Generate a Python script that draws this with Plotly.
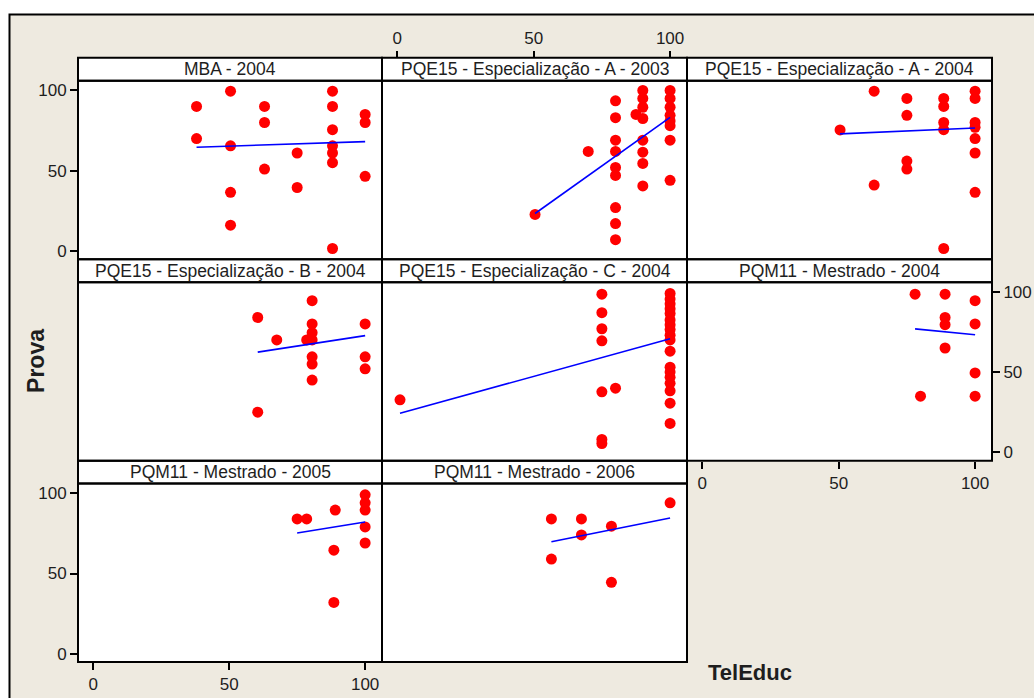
import numpy as np
import plotly.graph_objects as go

# ---- data -------------------------------------------------------------
panel_titles = [
    "MBA - 2004",
    "PQE15 - Especialização - A - 2003",
    "PQE15 - Especialização - A - 2004",
    "PQE15 - Especialização - B - 2004",
    "PQE15 - Especialização - C - 2004",
    "PQM11 - Mestrado - 2004",
    "PQM11 - Mestrado - 2005",
    "PQM11 - Mestrado - 2006",
]

mba04_x = [38, 38, 50.5, 50.5, 50.5, 50.5, 63, 63, 63, 75, 75,
           88, 88, 88, 88, 88, 88, 88, 100, 100, 100]
mba04_y = [90, 70, 99.5, 65.5, 36.5, 16, 90, 80, 51, 61, 39.5,
           99.5, 90, 75.5, 65.5, 61, 55, 1.5, 85, 80, 46.5]

espA03_x = [50.5, 70] + [80] * 9 + [87.5] + [90] * 8 + [100] * 8
espA03_y = [22.7, 62, 93.5, 83, 69, 62, 52, 47, 27, 17, 7, 85,
            100, 95, 89.5, 82.5, 69, 61.5, 54.5, 40.5,
            100, 95, 89.5, 84.5, 81, 78, 69, 44]

espA04_x = [50.5, 63, 63, 75, 75, 75, 75] + [88.5] * 5 + [100] * 7
espA04_y = [75.4, 99.5, 41, 95, 84.5, 56, 51, 95, 90, 80, 75.5, 1.5,
            99.5, 95, 80, 77, 70, 61, 36.5]

espB04_x = [60.5, 60.5, 67.5, 78.5] + [80.5] * 7 + [100] * 3
espB04_y = [84, 25, 70, 70, 94.5, 80, 74.5, 70, 59.5, 55, 45, 80, 59.5, 52]

espC04_x = [1] + [75] * 7 + [80] + [100] * 18
espC04_y = [32.7, 98.5, 87, 77, 69.5, 37.7, 8, 5.5, 40,
            99, 95.5, 92.5, 89.5, 86.5, 82.5, 79.5, 76.5, 73, 70,
            63, 53, 50, 46.7, 43, 38.3, 30.6, 18]

mest04_x = [78, 80, 89, 89, 89, 89, 100, 100, 100, 100]
mest04_y = [98.5, 35, 98.5, 84, 79.5, 65, 94.5, 80, 49.5, 35]

mest05_x = [75, 78.5, 89, 88.5, 88.5, 100, 100, 100, 100, 100]
mest05_y = [84, 84, 89.5, 64.5, 32, 99, 94, 89.5, 79, 69]

mest06_x = [56.5, 56.5, 67.5, 67.5, 78.5, 78.5, 100]
mest06_y = [84, 59, 84, 74, 79.5, 44.5, 94]

# least-squares fit per panel: Prova = intercept + slope * TelEduc
fit_intercept = [62.45, -37.8, 69.2, 46.7, 23.9, 89.7, 54.5, 50.5]
fit_slope = [0.0565, 1.21, 0.074, 0.26, 0.468, -0.164, 0.276, 0.341]

tick_vals = [0, 50, 100]
tick_text = ["0", "50", "100"]

panel_x = [mba04_x, espA03_x, espA04_x, espB04_x, espC04_x, mest04_x, mest05_x, mest06_x]
panel_y = [mba04_y, espA03_y, espA04_y, espB04_y, espC04_y, mest04_y, mest05_y, mest06_y]

# ---- layout geometry (pixels) ----------------------------------------
W, H = 1034, 698
col_edges = [78, 382, 687, 992]
strip_tops = [58, 260, 462]
strip_h = 23
plot_bottoms = [260, 462, 664]
positions = [(0, 0), (0, 1), (0, 2), (1, 0), (1, 1), (1, 2), (2, 0), (2, 1)]

X_RANGE = [-5.6, 106.2]
Y_RANGE = [-5.2, 106.0]

BEIGE = "#EEEAE0"
FONT = "Liberation Sans, Arial, sans-serif"
TXT = "#1e1e1e"


def fx(px):
    return px / W


def fy(py):
    return 1 - py / H


fig = go.Figure()
shapes = []
annotations = []

# framed beige background
shapes.append(dict(type="rect", xref="paper", yref="paper",
                   x0=fx(9.5), x1=fx(W + 5), y0=fy(H + 5), y1=fy(14.5),
                   fillcolor=BEIGE, line=dict(color="#000000", width=2),
                   layer="below"))

for i, (r, c) in enumerate(positions):
    n = i + 1
    xa = "x" if n == 1 else f"x{n}"
    ya = "y" if n == 1 else f"y{n}"
    x0, x1 = col_edges[c], col_edges[c + 1]
    st = strip_tops[r]
    pt = st + strip_h
    pb = plot_bottoms[r]

    xs = np.array(panel_x[i], dtype=float)
    ys = np.array(panel_y[i], dtype=float)
    fig.add_trace(go.Scatter(x=xs, y=ys, mode="markers", xaxis=xa, yaxis=ya,
                             marker=dict(color="#FF0000", size=11, line=dict(width=0)),
                             showlegend=False, hoverinfo="x+y"))
    lx = np.array([xs.min(), xs.max()])
    ly = fit_intercept[i] + fit_slope[i] * lx
    fig.add_trace(go.Scatter(x=lx, y=ly, mode="lines", xaxis=xa, yaxis=ya,
                             line=dict(color="#0000FF", width=1.6),
                             showlegend=False, hoverinfo="skip"))

    # white panel + strip backgrounds
    shapes.append(dict(type="rect", xref="paper", yref="paper",
                       x0=fx(x0), x1=fx(x1), y0=fy(pb), y1=fy(st),
                       fillcolor="#FFFFFF", line=dict(width=0), layer="below"))
    # borders
    shapes.append(dict(type="rect", xref="paper", yref="paper",
                       x0=fx(x0), x1=fx(x1), y0=fy(pb), y1=fy(pt),
                       line=dict(color="#000000", width=2), layer="above"))
    shapes.append(dict(type="rect", xref="paper", yref="paper",
                       x0=fx(x0), x1=fx(x1), y0=fy(pt), y1=fy(st),
                       line=dict(color="#000000", width=2), layer="above"))
    annotations.append(dict(text=panel_titles[i], xref="paper", yref="paper",
                            x=fx((x0 + x1) / 2), y=fy(st + strip_h / 2),
                            xanchor="center", yanchor="middle", showarrow=False,
                            font=dict(family=FONT, size=17.5, color=TXT)))

    base_x = dict(domain=[fx(x0), fx(x1)], range=X_RANGE, showgrid=False,
                  zeroline=False, showline=False, anchor=ya,
                  tickvals=tick_vals, ticktext=tick_text, ticks="",
                  showticklabels=False, fixedrange=True,
                  tickfont=dict(family=FONT, size=17, color=TXT),
                  ticklen=7, tickwidth=1.5, tickcolor="#000000")
    base_y = dict(domain=[fy(pb), fy(pt)], range=Y_RANGE, showgrid=False,
                  zeroline=False, showline=False, anchor=xa,
                  tickvals=tick_vals, ticktext=tick_text, ticks="",
                  showticklabels=False, fixedrange=True,
                  tickfont=dict(family=FONT, size=17, color=TXT),
                  ticklen=7, tickwidth=1.5, tickcolor="#000000")

    # alternating tick placement around the panel grid
    if n in (1, 7):
        base_y.update(ticks="outside", showticklabels=True, side="left")
    if n == 6:
        base_y.update(ticks="outside", showticklabels=True, side="right")
    if n in (6, 7):
        base_x.update(ticks="outside", showticklabels=True, side="bottom")
    if n == 2:
        base_x.update(ticks="outside", showticklabels=True, side="top",
                      anchor="free", position=fy(st))

    key = "" if n == 1 else str(n)
    fig.layout["xaxis" + key] = base_x
    fig.layout["yaxis" + key] = base_y

annotations.append(dict(text="<b>Prova</b>", xref="paper", yref="paper",
                        x=fx(36), y=fy(362), textangle=-90, showarrow=False,
                        xanchor="center", yanchor="middle",
                        font=dict(family=FONT, size=23, color=TXT)))
annotations.append(dict(text="<b>TelEduc</b>", xref="paper", yref="paper",
                        x=fx(750), y=fy(674), showarrow=False,
                        xanchor="center", yanchor="middle",
                        font=dict(family=FONT, size=22, color=TXT)))

fig.update_layout(width=W, height=H, margin=dict(l=0, r=0, t=0, b=0),
                  paper_bgcolor="#FFFFFF", plot_bgcolor="rgba(0,0,0,0)",
                  shapes=shapes, annotations=annotations, showlegend=False)

fig.write_html("out.html")
